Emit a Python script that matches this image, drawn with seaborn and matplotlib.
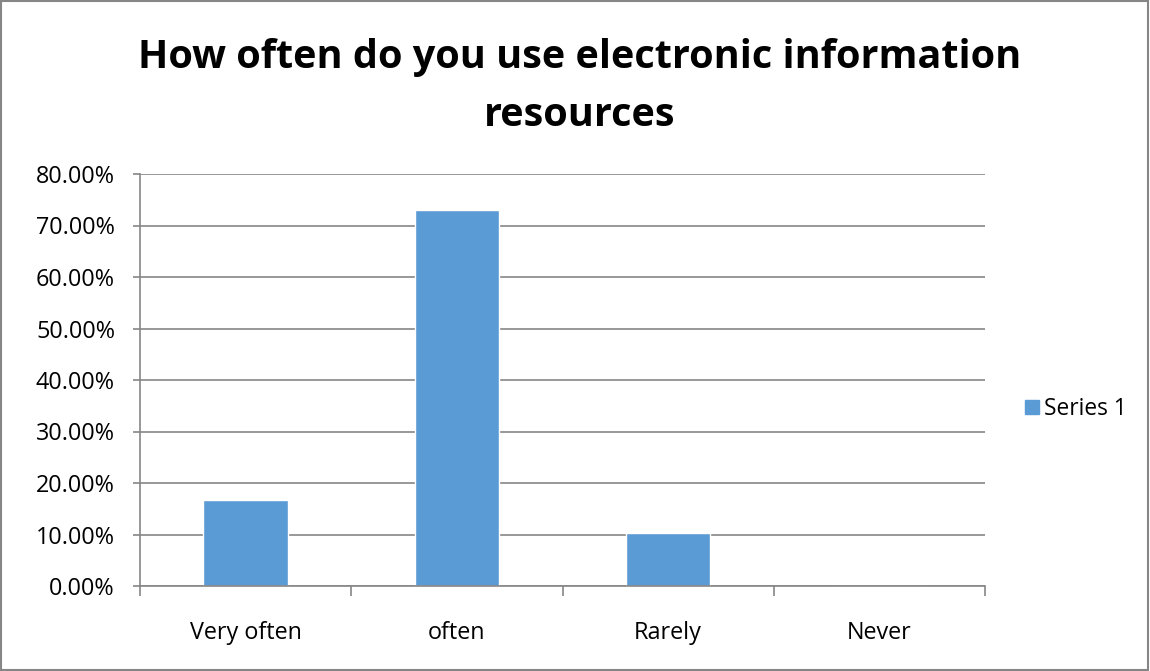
import matplotlib
matplotlib.use("Agg")
import matplotlib.pyplot as plt
import seaborn as sns
import pandas as pd
import numpy as np
from matplotlib.patches import Rectangle
from matplotlib.ticker import FuncFormatter, FixedLocator

categories = ["Very often", "often", "Rarely", "Never"]
values = [16.67, 73.08, 10.26, 0.0]
series_name = "Series 1"
yticks = [0, 10, 20, 30, 40, 50, 60, 70, 80]

sns.set_theme(style="white")
plt.rcParams['font.family'] = ['Open Sans', 'DejaVu Sans']
plt.rcParams['text.color'] = 'black'

df = pd.DataFrame({"category": categories, "value": values, "series": series_name})

fig = plt.figure(figsize=(11.5, 6.71), dpi=100)
ax = fig.add_axes([140/1150, 1-586/671, (985-140)/1150, (586-174)/671])

sns.barplot(data=df, x="category", y="value", hue="series", palette=["#5B9BD5"],
            width=0.4, ax=ax, legend=False, saturation=1)

ax.set_ylim(0, 80)
ax.set_xlim(-0.5, 3.5)
ax.yaxis.set_major_locator(FixedLocator(yticks))
ax.yaxis.set_major_formatter(FuncFormatter(lambda v, p: f"{v:.2f}%"))
ax.grid(axis="y", color="#868686", linewidth=1.2)
ax.set_axisbelow(True)
for s in ["top", "right"]:
    ax.spines[s].set_visible(False)
for s in ["left", "bottom"]:
    ax.spines[s].set_color("#868686")
    ax.spines[s].set_linewidth(1.2)
ax.set_xlabel("")
ax.set_ylabel("")
ax.tick_params(axis="y", left=True, length=5, color="#868686", width=1.2, labelsize=16.8, pad=13, labelcolor="black")
ax.tick_params(axis="x", bottom=False, labelsize=16.8, pad=19, labelcolor="black")
ax.set_xticks(np.arange(-0.5, 4, 1), minor=True)
ax.tick_params(axis="x", which="minor", bottom=True, length=7, color="#868686", width=1.2)

fig.text(580/1150, 1-68/671, "How often do you use electronic information",
         ha="center", va="baseline", fontsize=28.5, fontweight="bold", color="black")
fig.text(580/1150, 1-126/671, "resources",
         ha="center", va="baseline", fontsize=28.5, fontweight="bold", color="black")

fig.patches.append(Rectangle((0.001, 0.001), 0.997, 0.997, transform=fig.transFigure,
                             fill=False, edgecolor="#868686", linewidth=1.5))

handle = Rectangle((0, 0), 1, 1, color="#5B9BD5")
fig.legend([handle], [series_name], loc="center left", bbox_to_anchor=(1025/1150, 1-409/671),
           frameon=False, fontsize=16.4, handlelength=0.6, handleheight=0.6, handletextpad=0.25,
           borderaxespad=0, borderpad=0)

fig.savefig("out.png", dpi=100)
